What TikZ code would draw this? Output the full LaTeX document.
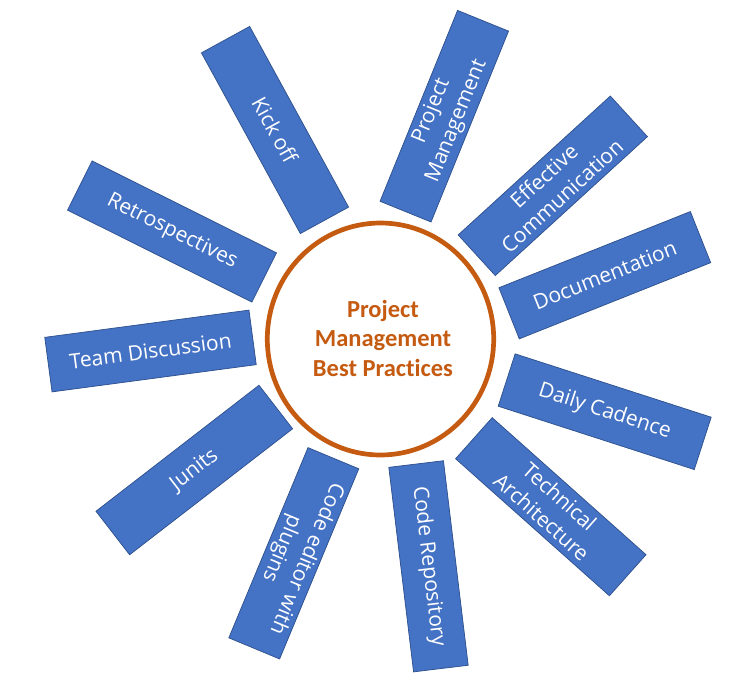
\documentclass[tikz,border=0pt]{standalone}
\usepackage{fontspec}
\setmainfont{Carlito}[Ligatures=NoCommon]
\newfontfamily\boxfont{Open Sans}
\definecolor{boxblue}{HTML}{4472C4}
\definecolor{boxline}{HTML}{2F528F}
\definecolor{rimorange}{HTML}{C55A11}

\begin{document}
\begin{tikzpicture}[x=1pt,y=-1pt,
  practice/.style={draw=boxline,line width=0.75pt,fill=boxblue,text=white,
    minimum width=206pt,minimum height=55pt,inner sep=0pt,align=center,
    font=\boxfont\fontsize{21}{27}\selectfont},
  hub/.style={draw=rimorange,line width=4.7pt},
  hubtext/.style={text=rimorange,align=center,font=\fontsize{24.5}{29.5}\selectfont\bfseries}]
\useasboundingbox (0,0) rectangle (749,682);

%centre
\draw[hub] (380.5,339) ellipse (113.2pt and 116pt);
\node[hubtext] (hub) at (383,338) {Project\\Management\\Best Practices};

%practices, clockwise from the top
\node[practice,rotate=67.9] (pm) at (444.3,116.2) {Project\\Management};
\node[practice,rotate=42.4] (comm) at (552.8,185.8) {Effective\\Communication};
\node[practice,rotate=21.7] (doc) at (604.8,275.2) {Documentation};
\node[practice,rotate=-17.9] (daily) at (604.7,411.7) {Daily Cadence};
\node[practice,rotate=-41.7] (arch) at (550.8,506.7) {Technical\\Architecture};
\node[practice,rotate=-83.1] (repo) at (428.5,566.3) {Code Repository};
\node[practice,rotate=-112.6] (editor) at (293.8,553.3) {Code editor with\\plugins};
\node[practice,rotate=37.7] (junits) at (194.3,470) {Junits};
\node[practice,rotate=7.6] (team) at (150.5,351) {Team Discussion};
\node[practice,rotate=-26.5] (retro) at (172,231.5) {Retrospectives};
\node[practice,rotate=-61.3] (kick) at (275,130) {Kick off};

\end{tikzpicture}
\end{document}
